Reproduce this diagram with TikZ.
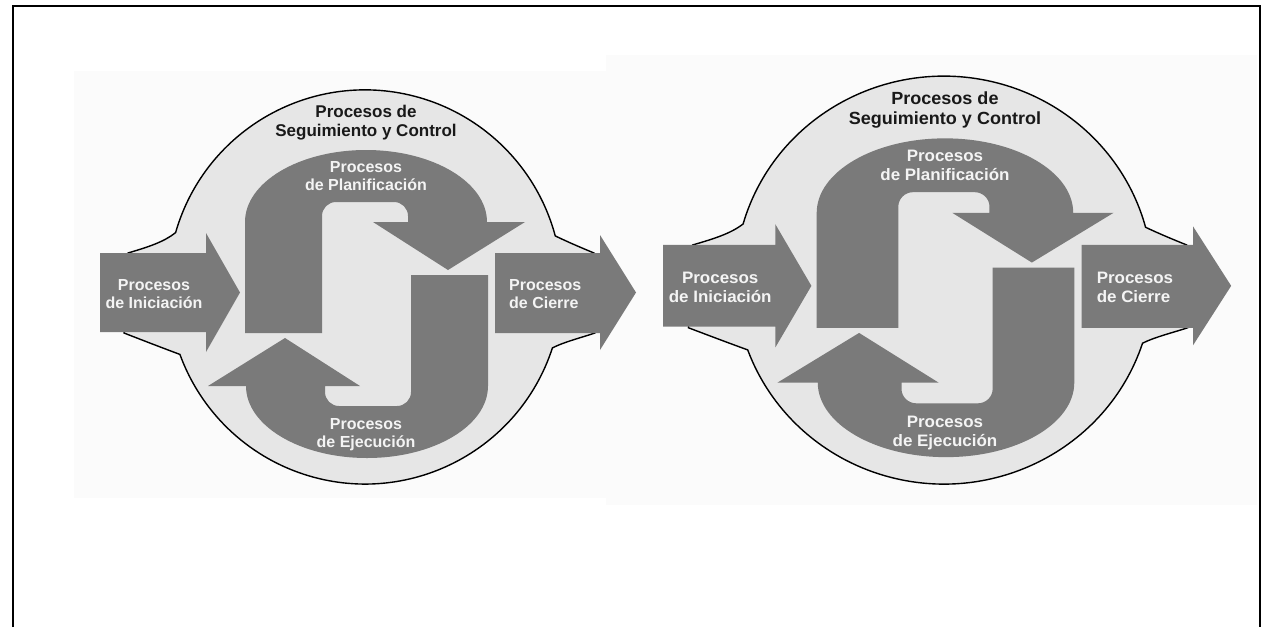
\documentclass[tikz,border=0pt]{standalone}
\usepackage{fontspec}
\setmainfont{Liberation Sans}

\definecolor{flecha}{HTML}{7A7A7A}
\definecolor{fondo}{HTML}{E6E6E6}
\definecolor{letra}{HTML}{F4F4F4}
\definecolor{panel}{HTML}{FBFBFB}

\tikzset{
  proc/.style={text=letra, font=\bfseries\fontsize{16}{18}\selectfont, align=center, inner sep=0pt},
  titulo/.style={text=black!90, font=\bfseries\fontsize{17}{19}\selectfont, align=center, inner sep=0pt}
}

\begin{document}
\begin{tikzpicture}[x=1pt,y=-1pt]

  \useasboundingbox (0,0) rectangle (1270,627);

  \def\circulo{(175.6,232.6) arc[start angle=196,end angle=345,radius=197]
    .. controls (570,243) and (582,248) .. (594,253) -- (595,333)
    .. controls (580,338) and (564,342) .. (552.4,347.9)
    arc[start angle=18,end angle=160,radius=197]
    .. controls (160,347) and (142,340) .. (124,333) -- (128,253)
    .. controls (148,247) and (164,242) .. cycle}
  \def\entrada{(100,253) -- (206,253) -- (206,233) -- (240,292.5) -- (206,352) -- (206,332) -- (100,332) -- cycle}
  \def\salida{(495,253) -- (600,253) -- (600,235) -- (636,292.5) -- (600,350) -- (600,333) -- (495,333) -- cycle}
  \def\planif{(245,333) -- (245,222) arc[start angle=180,end angle=360,x radius=121,y radius=72]
    -- (525,222) -- (448,270) -- (373,222) -- (408,222) -- (408,216)
    arc[start angle=0,end angle=-90,radius=14] -- (336,202)
    arc[start angle=-90,end angle=-180,radius=14] -- (322,333) -- cycle}

  \def\ciclo#1{
    \filldraw[fill=fondo, draw=black, line width=1.4pt] \circulo;
    \fill[flecha] \entrada;
    \fill[flecha] \salida;
    \fill[flecha] \planif;
    \fill[flecha, rotate around={180:(366.5,304)}] \planif;

    \node[titulo] (seg#1) at (366,122.5) {Procesos de\\Seguimiento y Control};
    \node[proc] (pla#1) at (366,176) {Procesos\\de Planificación};
    \node[proc] (eje#1) at (366,435) {Procesos\\de Ejecución};
    \node[proc] (ini#1) at (154,294) {Procesos\\de Iniciación};
    \node[proc, align=left, anchor=west] (cie#1) at (509,294) {Procesos\\de Cierre};
  }

  % fondos de las dos figuras
  \fill[panel] (74,71) rectangle (640,498);
  \fill[panel] (606,55) rectangle (1257,505);

  \ciclo{a}

  \begin{scope}[shift={(557,-16.9)}, xscale=1.06, yscale=1.035, transform shape]
    \ciclo{b}
  \end{scope}

  % marco
  \draw[line width=2pt] (13,627) -- (13,6) -- (1260,6) -- (1260,627);

\end{tikzpicture}
\end{document}
